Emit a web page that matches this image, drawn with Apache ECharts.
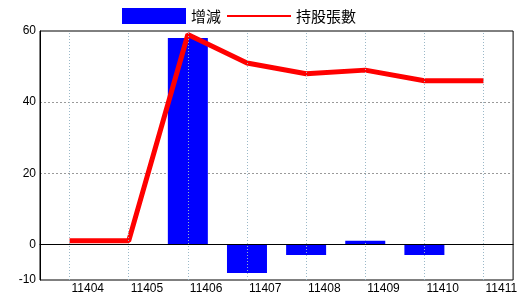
<!DOCTYPE html>
<html><head><meta charset="utf-8">
<script src="https://cdn.jsdelivr.net/npm/echarts@6/dist/echarts.min.js"></script>
<style>html,body{margin:0;padding:0;background:#fff}#c{width:520px;height:300px}</style>
</head><body><div id="c"></div>
<script>
const categories = ['11404','11405','11406','11407','11408','11409','11410','11411'];
const changeValues = [0, 0, 58, -8, -3, 1, -3, 0];
const holdingValues = [1, 1, 59, 51, 48, 49, 46, 46];
const yLabels = [-10, 0, 20, 40, 60];
const barName = '增減';
const lineName = '持股張數';

const chart = echarts.init(document.getElementById('c'), null, {renderer:'canvas'});
const font = 'Liberation Sans, Arial, sans-serif';
chart.setOption({
  animation:false,
  legend:{
    left:117, top:3, itemWidth:64, itemHeight:16, itemGap:6,
    textStyle:{fontFamily:'"Noto Sans CJK TC", sans-serif', fontSize:15, color:'#000'},
    data:[{name:barName, icon:'rect'}, {name:lineName, icon:'path://M0,0H64V2H0Z'}]
  },
  grid:{left:40, right:5, top:31, bottom:20, show:true, borderColor:'#000', borderWidth:1},
  xAxis:{
    type:'category', data:categories, boundaryGap:true,
    axisLine:{lineStyle:{color:'#000'}}, axisTick:{show:false},
    axisLabel:{align:'left', margin:3, padding:[0,0,0,2], color:'#000', fontFamily:font, fontSize:12},
    splitLine:{show:false}
  },
  yAxis:{
    type:'value', min:-10, max:60, interval:10,
    axisLine:{show:true, lineStyle:{color:'#000'}}, axisTick:{show:false},
    axisLabel:{margin:4, color:'#000', fontFamily:font, fontSize:12,
      formatter:v=> yLabels.indexOf(v)>=0 ? String(v) : ''},
    splitLine:{show:true, lineStyle:{type:[2,2], width:1,
      color:['rgba(0,0,0,0)','rgba(0,0,0,0)','rgba(0,0,0,0)','#9a9a9a','rgba(0,0,0,0)','#9a9a9a','rgba(0,0,0,0)','rgba(0,0,0,0)']}}
  },
  series:[
    {type:'line', data:[], z:0, silent:true, symbol:'none',
     markLine:{silent:true, symbol:['none','none'], label:{show:false},
       lineStyle:{color:'#9ab8c8', type:[1,2], width:1},
       data: categories.map(c=>({xAxis:c}))}},
    {name:barName, type:'bar', data:changeValues, barWidth:40, itemStyle:{color:'#0000ff'}, z:2,
     markLine:{silent:true, symbol:['none','none'], label:{show:false},
       lineStyle:{color:'#000', type:'solid', width:1}, data:[{yAxis:0}]}},
    {name:lineName, type:'line', data:holdingValues, symbol:'none', z:3,
     lineStyle:{color:'#ff0000', width:5}, itemStyle:{color:'#ff0000'}}
  ]
});
</script></body></html>
